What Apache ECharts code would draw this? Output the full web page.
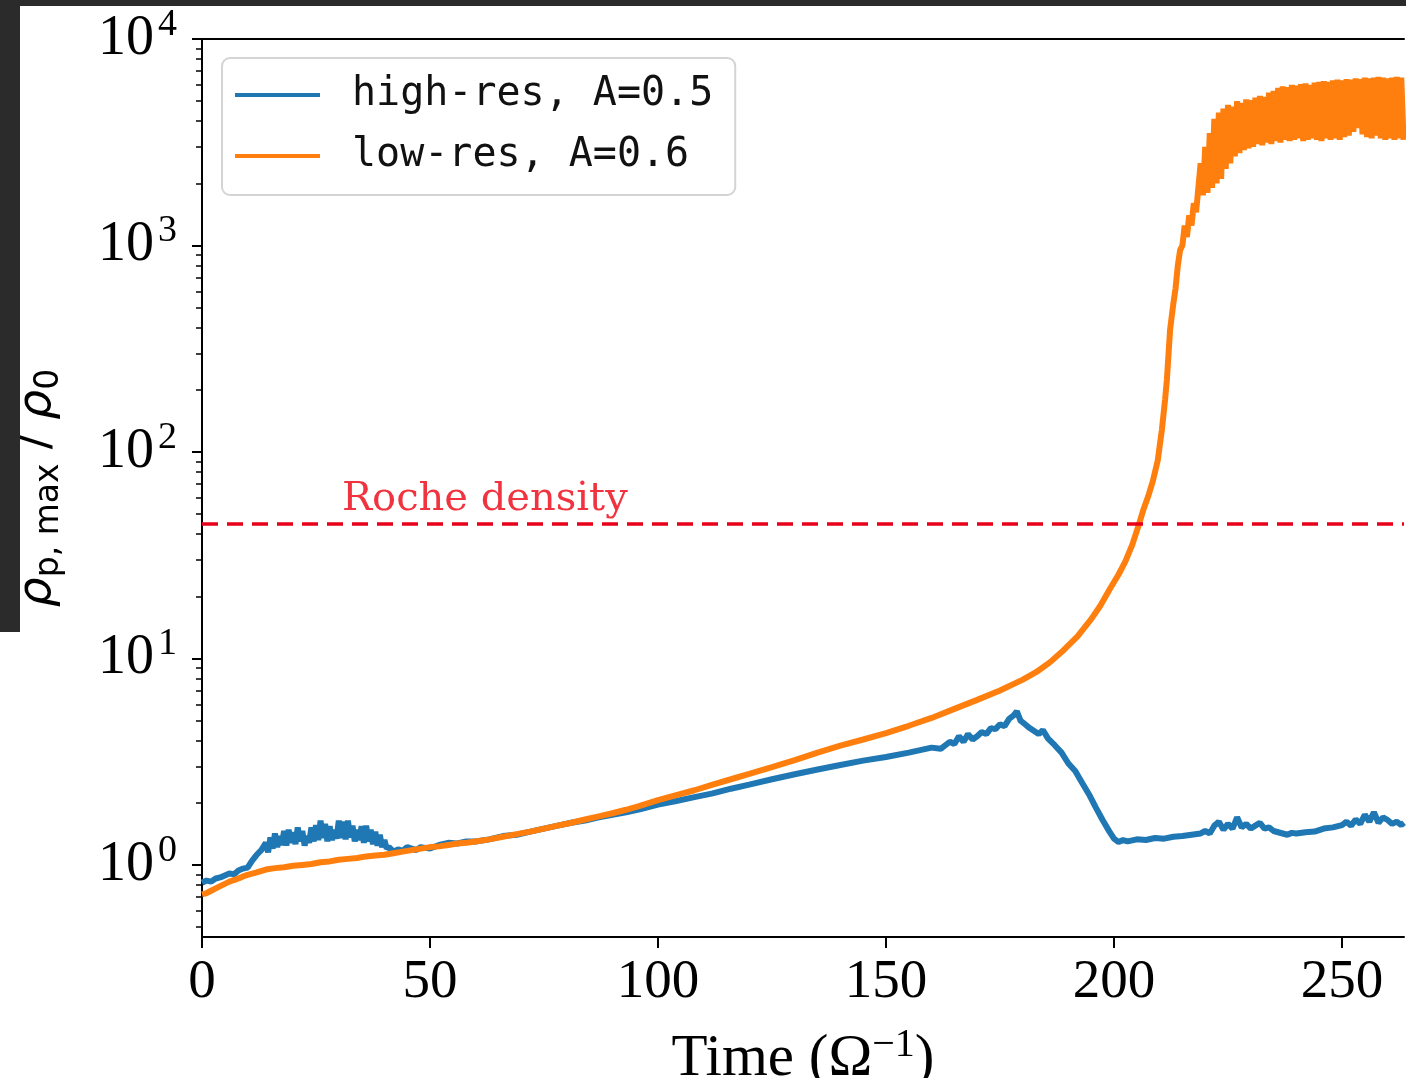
<!DOCTYPE html>
<html>
<head>
<meta charset="utf-8">
<script src="https://cdn.jsdelivr.net/npm/echarts@6/dist/echarts.min.js"></script>
<style>
html,body{margin:0;padding:0;background:#fff;}
#chart{width:1406px;height:1078px;}
</style>
</head>
<body>
<div id="chart"></div>
<script>
// ---------- data ----------
const xTickValues = [0, 50, 100, 150, 200, 250];
const yTickExponents = [0, 1, 2, 3, 4];
const yMinorTicks = [0.5,0.6,0.7,0.8,0.9,2,3,4,5,6,7,8,9,20,30,40,50,60,70,80,90,200,300,400,500,600,700,800,900,2000,3000,4000,5000,6000,7000,8000,9000];
const rocheDensity = 44.8;
const rocheLabelTime = 30.7;

const highResT = [0,1,2,3,4,5,6,7,8,9,10,11,12,13,14,14.5,15,15.5,16,16.5,17,17.5,18,18.5,19,19.5,20,20.5,21,21.5,22,22.5,23,23.5,24,24.5,25,25.5,26,26.5,27,27.5,28,28.5,29,29.5,30,30.5,31,31.5,32,32.5,33,33.5,34,34.5,35,35.5,36,36.5,37,37.5,38,38.5,39,39.5,40,40.5,41,42,43,44,45,46,47,48,49,50,52,54,56,58,60,63,66,69,72,75,78,81,84,87,90,93,96,100,104,108,112,116,120,125,130,135,140,145,150,155,160,162,164,165,166,167,168,169,170,171,172,173,174,175,176,177,178,178.7,179.5,180.5,181.5,182.5,183.5,184.4,185.5,187,188.5,190,191.5,193,194.5,196,197.5,199,200,201,202,203,205,207,209,211,213,215,217,219,220,221,222,223,224,225,226,227,228,229,230,231,232,233,234,235,236,237,238,239,240,242,244,246,248,250,251,252,253,254,255,256,257,258,259,260,261,262,263,263.6];
const highResV = [0.82,0.84,0.83,0.86,0.87,0.89,0.91,0.90,0.94,0.96,0.97,1.05,1.12,1.18,1.28,1.15,1.36,1.20,1.42,1.22,1.38,1.25,1.46,1.24,1.48,1.28,1.44,1.26,1.52,1.30,1.46,1.24,1.38,1.28,1.52,1.30,1.56,1.32,1.64,1.35,1.58,1.30,1.54,1.32,1.48,1.34,1.64,1.35,1.62,1.33,1.64,1.36,1.55,1.30,1.48,1.32,1.54,1.28,1.55,1.30,1.48,1.26,1.45,1.24,1.40,1.22,1.32,1.20,1.22,1.16,1.19,1.17,1.22,1.20,1.18,1.22,1.21,1.20,1.25,1.28,1.27,1.30,1.30,1.33,1.38,1.40,1.45,1.50,1.55,1.60,1.64,1.70,1.75,1.80,1.86,1.96,2.04,2.13,2.22,2.34,2.45,2.60,2.75,2.90,3.05,3.20,3.33,3.50,3.70,3.65,3.95,3.85,4.20,3.95,4.30,4.05,4.20,4.40,4.30,4.60,4.55,4.80,4.70,5.10,5.30,5.55,5.00,4.80,4.60,4.45,4.30,4.50,4.10,3.80,3.50,3.10,2.85,2.50,2.20,1.90,1.65,1.45,1.34,1.29,1.32,1.30,1.33,1.32,1.35,1.34,1.37,1.38,1.40,1.42,1.46,1.42,1.55,1.62,1.48,1.58,1.50,1.70,1.52,1.58,1.50,1.55,1.60,1.50,1.52,1.46,1.44,1.42,1.40,1.43,1.42,1.44,1.45,1.50,1.52,1.56,1.62,1.55,1.66,1.58,1.75,1.62,1.80,1.60,1.70,1.65,1.58,1.62,1.56,1.60];

const lowResT = [0,1,2,3,4,5,6,7,8,9,10,12,14,16,18,20,22,24,26,28,30,32,34,36,38,40,42,44,46,48,50,52,54,56,58,60,63,66,69,72,75,78,81,84,87,90,93,96,100,104,108,112,116,120,125,130,135,140,145,150,155,160,165,170,175,180,183,186,189,192,195,197,199,201,202.5,204,205.5,206.5,207.5,208.5,209.6,210.5,211.2,211.6,212.3,213,213.5,214,214.5,215,215.5,216,216.5,217,217.5,218,218.5,
219,219.5,220,220.5,221,221.5,222,222.5,223,223.5,224,224.5,225,225.5,226,226.5,227,227.5,228,228.5,229,229.5,230,230.5,231,231.5,232,232.5,233,233.5,234,234.5,235,235.5,236,236.5,237,237.5,238,238.5,239,239.5,240,240.5,241,241.5,242,242.5,243,243.5,244,244.5,245,245.5,246,246.5,247,247.5,248,248.5,249,249.5,250,250.5,251,251.5,252,252.5,253,253.5,254,254.5,255,255.5,256,256.5,257,257.5,258,258.5,259,259.5,260,260.5,261,261.5,262,262.5,263,263.5];
const lowResV = [0.72,0.73,0.75,0.77,0.79,0.81,0.83,0.845,0.86,0.88,0.895,0.92,0.95,0.965,0.975,0.99,1.0,1.01,1.03,1.04,1.06,1.07,1.08,1.10,1.11,1.12,1.14,1.16,1.18,1.20,1.22,1.23,1.25,1.27,1.28,1.30,1.33,1.37,1.41,1.45,1.50,1.55,1.60,1.66,1.72,1.78,1.85,1.93,2.06,2.18,2.30,2.45,2.60,2.76,2.98,3.22,3.50,3.78,4.05,4.35,4.72,5.15,5.70,6.30,7.00,7.90,8.60,9.60,11.0,12.8,15.5,18.0,21.5,25.5,29.5,35.5,44.8,53,61,72,91,128,179,223,390,520,620,800,950,1000,1250,1100,1400,1250,1600,1450,1900,
2500,1750,3000,1800,3500,1900,4100,2000,4400,2100,4600,2350,4800,2500,4700,2700,5000,2800,4900,2900,5100,2950,5050,3000,5200,3100,5300,3050,5250,3150,5500,3100,5600,3200,5800,3150,5900,3250,5850,3200,6000,3250,5950,3300,6050,3200,6100,3250,6000,3300,6150,3250,6200,3200,6250,3300,6200,3250,6300,3300,6350,3250,6300,3350,6400,3400,6350,3550,6450,3700,6400,3450,6500,3350,6450,3300,6500,3400,6550,3300,6500,3250,6450,3300,6500,3250,6550,3300,6500,3250];

// ---------- chart ----------
const lg = v => Math.log10(v);
const toPts = (T, V) => T.map((t, i) => [t, lg(V[i])]);

const X_MAX = 263.6;
const Y_MIN = -0.349, Y_MAX = 4;
const serif = 'Liberation Serif';

const chart = echarts.init(document.getElementById('chart'), null, {renderer: 'canvas'});
chart.setOption({
  animation: false,
  backgroundColor: '#ffffff',
  graphic: [
    {type: 'rect', left: 0, top: 0, shape: {width: 1406, height: 6}, style: {fill: '#2b2b2b'}, z: 100},
    {type: 'rect', left: 0, top: 0, shape: {width: 20, height: 632}, style: {fill: '#2b2b2b'}, z: 100}
  ],
  grid: {left: 202, top: 39, right: 2, bottom: 141, containLabel: false, outerBoundsMode: 'none'},
  legend: {
    left: 222, top: 58, orient: 'vertical', icon: 'rect',
    itemWidth: 85, itemHeight: 4, itemGap: 21,
    padding: [17, 22, 19, 13],
    backgroundColor: '#ffffff', borderColor: '#d4d4d4', borderWidth: 2, borderRadius: 8,
    textStyle: {fontFamily: 'DejaVu Sans Mono', fontSize: 40, color: '#111', padding: [0, 0, 0, 27], lineHeight: 40},
    data: ['high-res, A=0.5', 'low-res, A=0.6'],
    selectedMode: false
  },
  xAxis: [{
    type: 'value', min: 0, max: X_MAX, interval: 50,
    axisLine: {show: true, onZero: false, lineStyle: {color: '#000', width: 2}},
    axisTick: {show: true, length: 11, lineStyle: {color: '#000', width: 2}, customValues: xTickValues},
    axisLabel: {show: true, margin: 18, fontFamily: serif, fontSize: 55, color: '#000', customValues: xTickValues},
    splitLine: {show: false},
    name: '{a|Time (Ω}{s|−1}{a|)}', nameLocation: 'middle', nameGap: 88,
    nameTextStyle: {
      rich: {
        a: {fontFamily: serif, fontSize: 59, color: '#000'},
        s: {fontFamily: serif, fontSize: 40, color: '#000', padding: [0, 0, 28, 0]}
      }
    }
  }, {
    type: 'value', position: 'top', min: 0, max: X_MAX, interval: 50,
    axisLine: {show: true, onZero: false, lineStyle: {color: '#000', width: 2}},
    axisTick: {show: false}, axisLabel: {show: false}, splitLine: {show: false}
  }],
  yAxis: [{
    type: 'value', min: Y_MIN, max: Y_MAX, position: 'left',
    axisLine: {show: true, onZero: false, lineStyle: {color: '#000', width: 2}},
    axisTick: {show: true, length: 10, lineStyle: {color: '#000', width: 2}, customValues: yTickExponents},
    axisLabel: {
      show: true, margin: 25, customValues: yTickExponents,
      formatter: v => '{b|10}{s|' + Math.round(v) + '}',
      rich: {
        b: {fontFamily: serif, fontSize: 56, color: '#000'},
        s: {fontFamily: serif, fontSize: 38, color: '#000', padding: [0, 0, 28, 4]}
      }
    },
    splitLine: {show: false},
    name: '{r|ρ}{s|p, max}{m| / }{r|ρ}{s|0}', nameLocation: 'middle', nameGap: 136,
    nameTextStyle: {
      rich: {
        r: {fontFamily: 'DejaVu Sans', fontStyle: 'italic', fontSize: 47, color: '#000'},
        m: {fontFamily: 'DejaVu Sans', fontSize: 45, color: '#000'},
        s: {fontFamily: 'DejaVu Sans', fontSize: 33, color: '#000', padding: [24, 0, 0, 0]}
      }
    }
  }, {
    type: 'value', min: Y_MIN, max: Y_MAX, position: 'left',
    axisLine: {show: false},
    axisTick: {show: true, length: 6, lineStyle: {color: '#000', width: 1.5}, customValues: yMinorTicks.map(lg)},
    axisLabel: {show: false}, splitLine: {show: false}
  }],
  series: [{
    name: 'high-res, A=0.5', type: 'line', xAxisIndex: 0, yAxisIndex: 0,
    data: toPts(highResT, highResV), symbol: 'none', showSymbol: false,
    color: '#1f77b4', lineStyle: {color: '#1f77b4', width: 6}, z: 2
  }, {
    name: 'low-res, A=0.6', type: 'line', xAxisIndex: 0, yAxisIndex: 0,
    data: toPts(lowResT, lowResV), symbol: 'none', showSymbol: false,
    color: '#ff7f0e', lineStyle: {color: '#ff7f0e', width: 6}, z: 3
  }, {
    name: 'Roche', type: 'scatter', xAxisIndex: 0, yAxisIndex: 0,
    data: [[rocheLabelTime, lg(rocheDensity)]], symbolSize: 0, z: 4, silent: true,
    label: {
      show: true, position: 'top', align: 'left', distance: 4,
      formatter: 'Roche density', fontFamily: 'DejaVu Serif', fontSize: 40, color: '#ee0010'
    },
    markLine: {
      silent: true, symbol: 'none', z: 4,
      label: {show: false},
      lineStyle: {color: '#e8001a', type: [16, 9], width: 3.5},
      data: [{yAxis: lg(rocheDensity)}]
    }
  }]
});
</script>
</body>
</html>
